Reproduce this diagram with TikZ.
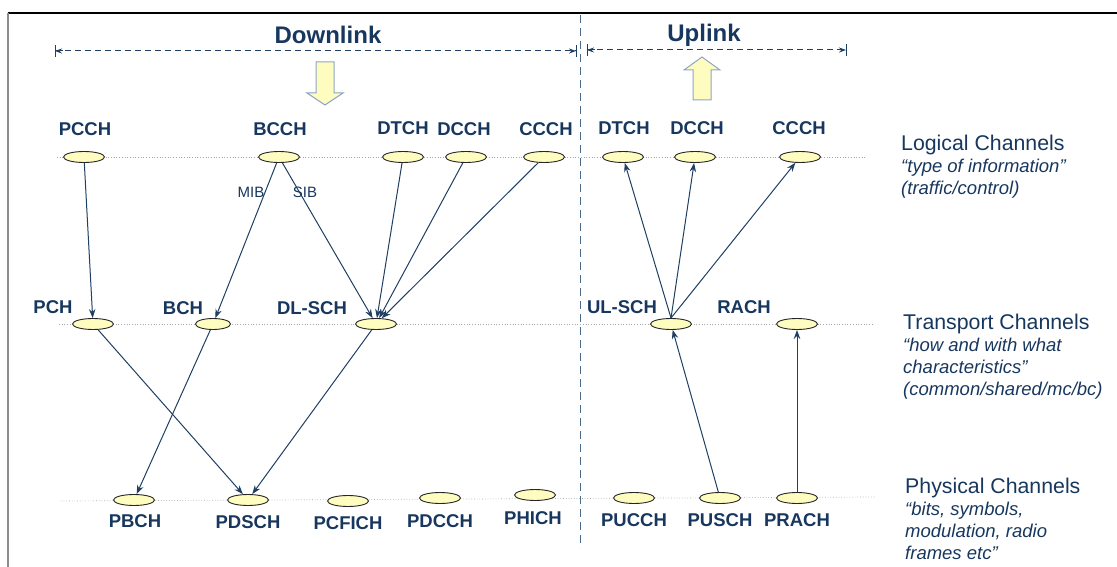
\documentclass[tikz,border=0pt]{standalone}
\usepackage{fontspec}
\setmainfont{Liberation Sans}
\usetikzlibrary{shapes.geometric,arrows.meta}
\definecolor{navy}{HTML}{17375E}
\definecolor{linec}{HTML}{1F3F63}
\definecolor{ellfill}{HTML}{FFFCC0}
\definecolor{dotc}{HTML}{A8A8A8}
\definecolor{divc}{HTML}{4A6A8A}
\definecolor{blkc}{HTML}{8CA5C8}
\begin{document}
\begin{tikzpicture}[x=1pt,y=-1pt,
  chan/.style={ellipse,draw=black!85,line width=0.9pt,fill=ellfill,minimum width=41pt,minimum height=11pt,inner sep=0pt},
  lbl/.style={text=navy,font=\fontsize{18.5}{20}\selectfont\bfseries,inner sep=0pt},
  head/.style={text=navy,font=\fontsize{24}{26}\selectfont\bfseries,inner sep=0pt},
  ttl/.style={text=navy,font=\fontsize{21.3}{23}\selectfont,inner sep=0pt,anchor=base west},
  sub/.style={text=navy,font=\fontsize{18.5}{20}\selectfont\itshape,inner sep=0pt,anchor=base west},
  small/.style={text=navy,font=\fontsize{15}{16}\selectfont,inner sep=0pt},
  conn/.style={draw=linec,line width=1pt,-{Stealth[length=9pt,width=6.5pt]}},
  level/.style={draw=dotc,line width=0.7pt,dotted},
  dim/.style={draw=linec,line width=1pt,dash pattern=on 6pt off 4pt},
  dimtip/.style={draw=linec,line width=1pt},
  blk/.style={fill=ellfill,draw=blkc,line width=1pt}
]
\useasboundingbox (0,0) rectangle (1117,567);
% frame
\draw[black,line width=1.5pt] (8,13) -- (1117,13);
\draw[black!45,line width=1.5pt] (8,13) -- (8,567);
% divider
\draw[divc,line width=0.8pt,dash pattern=on 8pt off 5pt] (580,15) -- (580,548);
% headers
\node[head] (dl) at (328,35) {Downlink};
\node[head] (ul) at (704,35) {Uplink};
% dimension lines
\coordinate (d1) at (55,51); \coordinate (d2) at (576,51);
\coordinate (u1) at (587,50); \coordinate (u2) at (846,50);
\draw[dim] (d1) -- (d2);
\draw[dim] (u1) -- (u2);
\draw[dimtip,-{Stealth[length=7pt,width=5pt]}] ([xshift=8pt]d1) -- (d1);
\draw[dimtip,-{Stealth[length=7pt,width=5pt]}] ([xshift=-8pt]d2) -- (d2);
\draw[dimtip,-{Stealth[length=7pt,width=5pt]}] ([xshift=8pt]u1) -- (u1);
\draw[dimtip,-{Stealth[length=7pt,width=5pt]}] ([xshift=-8pt]u2) -- (u2);
\draw[dimtip] ([yshift=-6pt]d1) -- ([yshift=6pt]d1);
\draw[dimtip] ([yshift=-6pt]d2) -- ([yshift=6pt]d2);
\draw[dimtip] ([yshift=-6pt]u1) -- ([yshift=6pt]u1);
\draw[dimtip] ([yshift=-6pt]u2) -- ([yshift=6pt]u2);
% block arrows
\draw[blk] (316,62) -- (334,62) -- (334,93) -- (343,93) -- (325,105) -- (307,93) -- (316,93) -- cycle;
\draw[blk] (693,100) -- (711,100) -- (711,70) -- (720,70) -- (702,57) -- (684,70) -- (693,70) -- cycle;
% level lines
\draw[level] (57,157) -- (865,157);
\draw[level] (59,324) -- (872,324);
\draw[level] (61,501) -- (876,497);
% logical channels
\node[chan] (pcch) at (84,157) {};
\node[chan] (bcch) at (279,157) {};
\node[chan] (dtchd) at (403,157) {};
\node[chan] (dcchd) at (466,157) {};
\node[chan] (ccchd) at (544,157) {};
\node[chan] (dtchu) at (623,157) {};
\node[chan] (dcchu) at (695,157) {};
\node[chan] (ccchu) at (800,157) {};
\node[lbl] (lpcch) at (85,129) {PCCH};
\node[lbl] (lbcch) at (280,129) {BCCH};
\node[lbl] (ldtchd) at (403,128) {DTCH};
\node[lbl] (ldcchd) at (464,129) {DCCH};
\node[lbl] (lccchd) at (546,129) {CCCH};
\node[lbl] (ldtchu) at (624,128) {DTCH};
\node[lbl] (ldcchu) at (697,128) {DCCH};
\node[lbl] (lccchu) at (799,128) {CCCH};
% transport channels
\node[chan] (pch) at (93,324) {};
\node[chan,minimum width=35pt] (bch) at (213,324) {};
\node[chan] (dlsch) at (376,324) {};
\node[chan] (ulsch) at (671,324) {};
\node[chan] (rach) at (797,324) {};
\node[lbl] (lpch) at (53,307) {PCH};
\node[lbl] (lbch) at (183,308) {BCH};
\node[lbl] (ldlsch) at (312,308) {DL-SCH};
\node[lbl] (lulsch) at (622,307) {UL-SCH};
\node[lbl] (lrach) at (744,307) {RACH};
% physical channels
\node[chan] (pbch) at (134,500) {};
\node[chan] (pdsch) at (248,500) {};
\node[chan] (pcfich) at (348,501) {};
\node[chan] (pdcch) at (440,498) {};
\node[chan] (phich) at (535,495) {};
\node[chan] (pucch) at (634,498) {};
\node[chan] (pusch) at (720,498) {};
\node[chan] (prach) at (797,498) {};
\node[lbl] (lpbch) at (135,521) {PBCH};
\node[lbl] (lpdsch) at (248,522) {PDSCH};
\node[lbl] (lpcfich) at (348,523) {PCFICH};
\node[lbl] (lpdcch) at (440,521) {PDCCH};
\node[lbl] (lphich) at (533,518) {PHICH};
\node[lbl] (lpucch) at (634,520) {PUCCH};
\node[lbl] (lpusch) at (720,520) {PUSCH};
\node[lbl] (lprach) at (797,520) {PRACH};
% MIB / SIB
\node[small] (mib) at (251,192) {MIB};
\node[small] (sib) at (305,192) {SIB};
% connectors downlink
\draw[conn] (pcch) -- (pch);
\draw[conn] (bcch) -- (bch);
\draw[conn] (bcch) -- (dlsch);
\draw[conn] (dtchd) -- (dlsch);
\draw[conn] (dcchd) -- (dlsch);
\draw[conn] (ccchd) -- (dlsch);
\draw[conn] (pch) -- (pdsch);
\draw[conn] (bch) -- (pbch);
\draw[conn] (dlsch) -- (pdsch);
% connectors uplink
\draw[conn] (ulsch.north) -- (dtchu);
\draw[conn] (ulsch.north) -- (dcchu);
\draw[conn] (ulsch.north) -- (ccchu);
\draw[conn] (pusch) -- (ulsch);
\draw[conn] (prach) -- (rach);
% right descriptions
\node[ttl] (tlog) at (901,151) {Logical Channels};
\node[sub] (slog1) at (901,173) {“type of information”};
\node[sub] (slog2) at (901,194) {(traffic/control)};
\node[ttl] (ttra) at (903,329) {Transport Channels};
\node[sub] (stra1) at (903,351) {“how and with what};
\node[sub] (stra2) at (903,373) {characteristics”};
\node[sub] (stra3) at (903,395) {(common/shared/mc/bc)};
\node[ttl] (tphy) at (905,493) {Physical Channels};
\node[sub] (sphy1) at (905,515) {“bits, symbols,};
\node[sub] (sphy2) at (905,537) {modulation, radio};
\node[sub] (sphy3) at (905,559) {frames etc”};
\end{tikzpicture}
\end{document}
